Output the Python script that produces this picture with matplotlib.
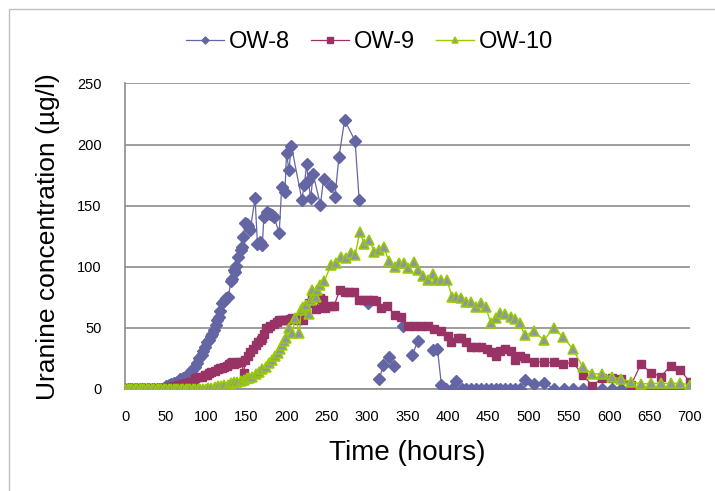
import matplotlib
matplotlib.use("Agg")
import matplotlib.pyplot as plt
import numpy as np
from matplotlib.patches import Rectangle

nan = np.nan

# OW-8 (gaps = missing samples)
ow8_t = [0, 3, 6, 9, 12, 15, 18, 21, 24, 27, 30, 33, 36, 39, 42, 45, 48, 51, 54, 57,
         60, 64, 68, 72, 75, 79, 83, 86, 89, 92, 95, 97, 99.5, 102, 104, 106, 108, 110, 112, 114,
         116, 118, 120, 122, 125, 128, 131, 133, 135, 136.5, 138, 140, 143, 144.5, 146, 149, 150.5, 152, 155, 161,
         164, 167, 170, 172, 176, 179, 182, 184, 191, 194, 198, 200, 203, 206, 219, 222, 225, 227, 230, 233,
         242, 246, 255, 260, 265, 272, 285, 290, 295, 301, 308, 315, 320, 327, 333, 338, 344, 350, 356, 363,
         372, 381, 387, 392, 398, 405, 410, 417, 423, 429, 435, 441, 447, 453, 459, 465, 471, 477, 483, 489,
         495, 507, 519, 532, 544, 555, 568, 579, 591, 603, 615, 627, 639, 652, 664, 676, 688, 700]
ow8_c = [0, 0, 0, 0, 0, 0, 0, 0, 0, 0, 0, 0, 0, 0, 0, 0, 1, 2, 3, 4,
         5, 6, 8, 9, 10, 13, 15.5, 18, 21, 25, 28, 31, 34.6, 38, 40, 43, 45, 48, 52, 56.5,
         59, 64, 70, 72, 74, 75.5, 88, 90, 97, 96, 100.6, 108, 113.7, 116, 124.6, 136, 135, 133, 130, 156,
         119, 120, 118, 141, 145, 143, 142, 141, 128, 165, 161, 193, 179, 199, 155, 167, 184, 170, 156, 176,
         150.6, 172, 166, 157, 190, 220, 203, 155, nan, 70, nan, 8, 19.6, 26, 19, nan, 51.5, nan, 28, 39.5,
         nan, 32, 33, 3, 0, 0, 6.5, 0, 0, 0, 0, 0, 0, 0, 0, 0, 0, 0, 0, 0,
         7.4, 3.8, 4.7, 0, 0, 0, 0, 0, 0, 0, 0, 0, 0, 0, 0, 0, 0, 0]

ow9_t = [0, 3, 6, 9, 12, 15, 18, 21, 24, 27, 30, 33, 36, 39, 42, 45, 48, 51, 55, 60,
         65, 70, 75, 80, 85, 87, 91, 95, 99, 101, 103.6, 107, 111, 115, 118, 120, 122, 126, 129, 131,
         133, 135, 138, 141, 144, 147, 149, 152, 155, 158, 162, 165, 168, 170, 172, 174, 177, 180, 184, 188,
         191, 194, 198, 201, 204, 207, 210, 214, 220, 224, 228, 231, 236, 242, 245, 248, 255, 259, 266, 272,
         278, 284, 290, 296, 301, 307, 311, 317, 325, 334, 342, 350, 358, 367, 375, 383, 392, 400, 404, 412,
         416.5, 423, 429, 435, 441, 448, 453, 459, 465, 471, 478, 483, 489, 495, 507, 519, 531, 543, 555, 567,
         579, 591, 603, 615, 627, 639, 652, 664, 676, 688, 700]
ow9_c = [0, 0, 0, 0, 0, 0, 0, 0, 0, 0, 0, 0, 0, 0, 0, 0, 0.5, 1, 1.5, 2,
         3, 4, 5, 5.5, 6, 8.7, 9.5, 10, 11, 11.5, 12.8, 14, 15, 16, 17, 17, 18, 19, 20, 21,
         22, 20, 21, 22, 22, 13, 24, 27, 30.5, 33, 36, 38, 40, 41.5, 45, 49.7, 50, 51.5, 53, 55,
         56.5, 56, 56, 56.5, 57, 58, 57, 56, 56.5, 62, 70, 74, 65, 74, 73, 66, 68, 68, 81, 79,
         79, 79, 73, 73, 73, 73, 72, 66, 68, 60.5, 59, 51.5, 51.5, 51.5, 51.5, 49, 47, 43, 38, 41.5,
         41.5, 38, 34.6, 34.6, 34.6, 33, 30.5, 27, 31, 32.5, 31, 23.7, 26.5, 25, 22.4, 21.6, 21.6, 20.5, 21.6, 11.5,
         2.5, 8.7, 8.7, 8, 3.3, 20, 13.4, 10, 19, 15.5, 5.5]

ow10_t = [0, 3, 6, 9, 12, 15, 18, 21, 24, 27, 30, 33, 36, 39, 42, 45, 48, 51, 54, 57,
          60, 63, 66, 69, 72, 75, 78, 81, 84, 87, 90, 93, 96, 100, 103, 107, 111, 115, 119, 123,
          127, 131, 135, 139, 143, 147, 151, 154, 157.5, 162, 166, 170, 174, 178, 182, 186, 189, 192, 195, 197,
          199, 203, 207, 211, 216, 218, 220, 224, 228, 230, 232, 236, 238, 242, 247, 255, 261, 267, 274, 280,
          285, 291, 296, 302.5, 309, 315, 321, 326.6, 334, 340, 346, 351, 358, 363, 369, 375, 381, 385, 392, 399,
          405, 410, 416.5, 423, 429, 435, 441, 447, 453, 459, 465, 471, 478, 483, 489, 495, 507, 519, 531, 543,
          555, 567, 579, 591, 603, 615, 627, 639, 652, 664, 676, 688, 700]
ow10_c = [0, 0, 0, 0, 0, 0, 0, 0, 0, 0, 0, 0, 0, 0, 0, 0, 0, 0, 0, 0,
          0, 0, 0, 0, 0, 0, 0, 0, 0, 0, 0, 0, 0, 0, 0.5, 1, 1.5, 2, 2.5, 3,
          3.5, 4.5, 6, 6, 6.5, 7.5, 8.5, 9, 10, 12, 14, 16, 18, 21, 23.7, 27, 29.7, 33, 36, 39,
          41.5, 49.7, 45.6, 58, 45.6, 64.6, 67, 68.7, 61, 72.8, 81, 75.5, 81, 85, 88.5, 101, 103, 108, 107, 111,
          109.7, 128.7, 119, 122, 112, 113.7, 116, 104.7, 100, 103, 103, 98.7, 104, 97, 92, 89, 94, 89, 89, 89,
          75.5, 75.5, 74, 71, 71, 67, 70.6, 67, 54, 58, 62, 61.5, 59, 57, 54, 44, 47, 40, 49.7, 42.3,
          32.5, 18, 12.3, 12.3, 9.6, 8, 6, 4, 4.5, 4.5, 4.5, 4.5, 3.3]

x_ticks = list(range(0, 701, 50))
y_ticks = list(range(0, 251, 50))

fig = plt.figure(figsize=(7.15, 4.91), dpi=100)
ax = fig.add_axes([0.175, 0.208, 0.790, 0.622])

ax.plot(ow8_t, ow8_c, color="#6466A3", lw=0.9, marker="D", ms=6, mfc="#6466A3", mec="#6466A3",
        label="OW-8", zorder=3)
ax.plot(ow9_t, ow9_c, color="#993366", lw=0.9, marker="s", ms=6.2, mfc="#993366", mec="#993366",
        label="OW-9", zorder=4)
ax.plot(ow10_t, ow10_c, color="#99CC00", lw=1.0, marker="^", ms=7.2, mfc="#8E96A2", mec="#99CC00",
        mew=1.1, label="OW-10", zorder=5)

ax.set_xlim(0, 700)
ax.set_ylim(0, 250)
ax.set_xticks(x_ticks)
ax.set_yticks(y_ticks)
ax.tick_params(length=0, labelsize=10.5, pad=15)
ax.tick_params(axis="y", pad=17)
for lab in ax.get_xticklabels() + ax.get_yticklabels():
    lab.set_fontfamily("Liberation Sans")

ax.grid(axis="y", color="#8C8C8C", lw=1.2)
ax.set_axisbelow(True)
for s in ["top", "right"]:
    ax.spines[s].set_visible(False)
ax.spines["left"].set_color("#8C8C8C")
ax.spines["bottom"].set_color("#8C8C8C")
ax.spines["left"].set_linewidth(1.2)
ax.spines["bottom"].set_linewidth(1.2)

ax.set_xlabel("Time (hours)", fontsize=20, family="Liberation Sans", labelpad=12)
ax.set_ylabel("Uranine concentration (\u00b5g/l)", fontsize=19, family="Liberation Sans", labelpad=12)

leg = fig.legend(loc="center", bbox_to_anchor=(0.517, 0.914), ncol=3, frameon=False,
                 prop={"family": "Liberation Sans", "size": 17}, handlelength=1.6,
                 handletextpad=0.2, columnspacing=0.9, markerscale=0.6)

fig.patches.append(Rectangle((9 / 715, -0.1), 1.2, 1.1 - 9 / 491, transform=fig.transFigure,
                             fill=False, edgecolor="#BFBFBF", lw=1))

fig.savefig("out.png", dpi=100)
